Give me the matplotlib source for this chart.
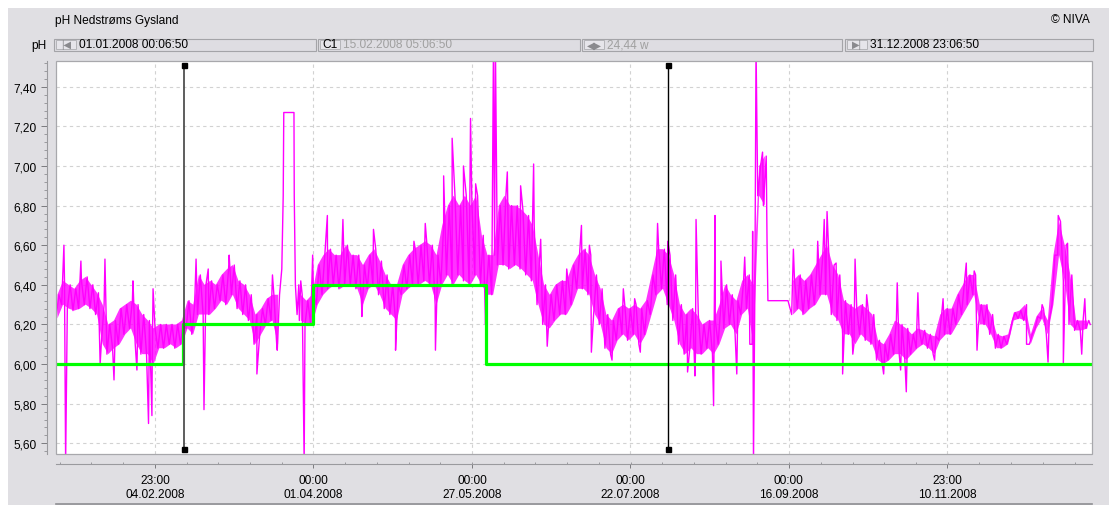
import numpy as np
import matplotlib
matplotlib.use("Agg")
import matplotlib.pyplot as plt
import matplotlib.dates as mdates
from matplotlib.patches import Rectangle
from matplotlib.lines import Line2D
from matplotlib.ticker import MultipleLocator, FixedLocator, FuncFormatter
from datetime import datetime, timedelta

# ---------------- texts ----------------
title = "pH Nedstrøms Gysland"
copyright_text = "© NIVA"
unit = "pH"
start_label = "01.01.2008 00:06:50"
cursor_label = "15.02.2008 05:06:50"
width_label = "24,44 w"
end_label = "31.12.2008 23:06:50"

# ---------------- time frame ----------------
t_start = datetime(2008, 1, 1, 0, 6, 50)
t_end = datetime(2008, 12, 31, 23, 6, 50)
cursor1_time = datetime(2008, 2, 15, 5, 6, 50)
cursor_width_weeks = 24.44

x_tick_times = [datetime(2008, 2, 4, 23, 0), datetime(2008, 4, 1, 0, 0),
                datetime(2008, 5, 27, 0, 0), datetime(2008, 7, 22, 0, 0),
                datetime(2008, 9, 16, 0, 0), datetime(2008, 11, 10, 23, 0)]
x_minor_per_major = 5

y_limits = (5.546, 7.530)
y_ticks = [5.60, 5.80, 6.00, 6.20, 6.40, 6.60, 6.80, 7.00, 7.20, 7.40]
y_minor_step = 0.04

# ---------------- pH series ----------------
# envelope of the noisy pH signal, one sample every 2 days (days since start)
band_step_days = 2
band_lo = [6.23, 6.30, 6.28, 6.27, 6.28, 6.30, 6.28, 6.25, 6.10, 6.05,
           6.08, 6.10, 6.15, 6.18, 6.10, 6.05, 6.05, 6.00, 6.08, 6.08,
           6.10, 6.08, 6.10, 6.18, 6.15, 6.25, 6.25, 6.25, 6.28, 6.32,
           6.30, 6.35, 6.28, 6.25, 6.22, 6.10, 6.15, 6.20, 6.22, 6.10,
           None, None, None, 6.22, 6.20, 6.20, 6.30, 6.35, 6.38, 6.40,
           6.38, 6.40, 6.40, 6.38, 6.30, 6.38, 6.40, 6.35, 6.28, 6.25,
           6.22, 6.35, 6.38, 6.40, 6.40, 6.42, 6.40, 6.30, 6.40, 6.45,
           6.40, 6.45, 6.42, 6.40, 6.45, 6.40, 6.35, 6.35, 6.50, 6.50,
           6.48, 6.50, 6.48, 6.45, 6.42, 6.30, 6.20, 6.18, 6.22, 6.25,
           6.25, 6.30, 6.38, 6.38, 6.35, 6.25, 6.20, 6.08, 6.05, 6.12,
           6.15, 6.12, 6.15, 6.10, 6.15, 6.25, 6.35, 6.38, 6.30, 6.22,
           6.10, 6.05, 6.08, 6.05, 6.05, 6.08, 6.05, 6.10, 6.18, 6.20,
           6.15, 6.25, 6.28, 6.10, 6.85, 6.80, None, None, None, None,
           6.25, 6.28, 6.25, 6.28, 6.30, 6.35, 6.35, 6.25, 6.22, 6.15,
           6.15, 6.10, 6.15, 6.12, 6.10, 6.02, 6.00, 6.02, 6.05, 6.05,
           6.02, 6.05, 6.08, 6.10, 6.08, 6.05, 6.12, 6.15, 6.15, 6.20,
           6.25, 6.30, 6.35, 6.20, 6.20, 6.15, 6.08, 6.08, 6.10, 6.22,
           6.23, 6.22, 6.10, 6.18, 6.23, 6.15, 6.30, 6.55, 6.42, 6.20,
           6.17, 6.17, 6.18]
band_hi = [6.35, 6.42, 6.40, 6.38, 6.42, 6.44, 6.40, 6.36, 6.30, 6.20,
           6.22, 6.28, 6.30, 6.32, 6.30, 6.25, 6.22, 6.18, 6.20, 6.20,
           6.20, 6.20, 6.22, 6.32, 6.30, 6.45, 6.40, 6.42, 6.40, 6.45,
           6.48, 6.50, 6.42, 6.40, 6.35, 6.25, 6.28, 6.33, 6.35, 6.35,
           None, None, None, 6.35, 6.32, 6.35, 6.50, 6.55, 6.58, 6.55,
           6.55, 6.60, 6.55, 6.55, 6.50, 6.55, 6.58, 6.52, 6.45, 6.40,
           6.40, 6.50, 6.55, 6.58, 6.60, 6.62, 6.60, 6.55, 6.70, 6.80,
           6.85, 6.80, 6.85, 6.80, 6.85, 6.65, 6.55, 6.55, 6.80, 6.85,
           6.80, 6.80, 6.78, 6.75, 6.70, 6.55, 6.40, 6.35, 6.40, 6.42,
           6.42, 6.50, 6.55, 6.58, 6.55, 6.45, 6.38, 6.25, 6.22, 6.28,
           6.30, 6.28, 6.30, 6.28, 6.32, 6.45, 6.58, 6.58, 6.55, 6.45,
           6.30, 6.25, 6.28, 6.25, 6.20, 6.22, 6.22, 6.30, 6.40, 6.35,
           6.32, 6.42, 6.45, 6.40, 7.00, 7.05, None, None, None, None,
           6.42, 6.45, 6.42, 6.45, 6.50, 6.55, 6.60, 6.50, 6.45, 6.32,
           6.30, 6.28, 6.30, 6.28, 6.25, 6.12, 6.10, 6.15, 6.22, 6.20,
           6.18, 6.15, 6.18, 6.17, 6.15, 6.14, 6.25, 6.28, 6.28, 6.35,
           6.40, 6.45, 6.45, 6.30, 6.30, 6.25, 6.15, 6.14, 6.15, 6.26,
           6.27, 6.30, 6.15, 6.24, 6.28, 6.22, 6.55, 6.72, 6.60, 6.45,
           6.22, 6.22, 6.22]

# isolated readings: spikes, the plateau in March and the flat stretch in September
spike_days = [2.8, 3.4, 8.8, 15.6, 17.3, 20.5, 27.2, 28.6, 32.7, 33.9, 34.3,
              49.5, 52.3, 53.8, 61.2, 71.0, 76.5, 78.2,
              79.8, 80.3, 80.5, 84.1, 84.2, 84.6, 85.2, 85.8,
              86.5, 87.7, 90.7, 95.9, 101.4, 108.1, 112.2, 120.0, 126.5, 130.5,
              134.1, 137.0, 140.0, 144.0, 146.5, 148.3, 151.8, 154.6, 155.3,
              159.5, 164.2, 168.8, 171.3, 173.6, 180.5, 185.7, 188.5, 189.2,
              196.5, 200.5, 204.5, 206.5, 212.6, 216.2, 223.2, 225.8, 226.2,
              232.4, 232.9, 235.0, 240.6, 243.4, 245.2, 246.2, 246.5, 247.4,
              249.7, 251.3, 251.6, 258.7, 260.6, 269.2, 271.5, 272.5, 275.7,
              278.0, 281.6, 282.4, 286.5, 292.5, 297.3, 298.5, 300.5, 304.6,
              310.5, 313.5, 321.7, 324.5, 325.5, 343.0, 348.5, 350.6, 354.2,
              356.0, 357.5, 362.5, 363.6, 365.5]
spike_vals = [6.60, 5.50, 6.52, 6.00, 6.53, 5.92, 6.42, 5.97, 5.70, 5.74, 6.38,
              6.53, 5.77, 6.48, 6.55, 5.95, 6.45, 6.07,
              6.48, 6.85, 7.27, 7.27, 6.85, 6.40, 6.25, 6.40,
              6.42, 5.50, 6.55, 6.75, 6.73, 6.24, 6.68, 6.07, 6.62, 6.71,
              6.07, 6.95, 7.14, 7.00, 7.24, 6.91, 6.20, 7.60, 7.60,
              6.97, 6.90, 7.01, 6.63, 6.09, 6.48, 6.70, 6.60, 6.06,
              6.02, 6.38, 6.33, 6.06, 6.71, 6.62, 5.96, 5.94, 6.73,
              5.79, 6.75, 6.52, 5.95, 6.54, 6.10, 6.67, 5.50, 7.60,
              7.07, 6.60, 6.32, 6.32, 6.58, 6.62, 6.73, 6.77, 6.51,
              5.95, 6.05, 6.53, 6.35, 5.95, 6.41, 5.97, 5.86, 6.36,
              6.02, 6.33, 6.51, 6.47, 6.07, 6.10, 6.30, 6.01, 6.75,
              6.00, 6.61, 6.05, 6.33, 6.20]

# lower limit curve (days since start where it changes, and its levels)
limit_days = [0.0, 45.0, 91.0, 152.0, 365.96]
limit_vals = [6.00, 6.20, 6.40, 6.00, 6.00]

# ---------------- colours ----------------
panel_color = "#e0dfe3"
ph_color = "#ff00ff"
limit_color = "#00ff00"
grid_color = "#d2d2d2"
axis_color = "#9a9a9e"
FONT = ["Liberation Sans", "DejaVu Sans"]
FS = 8.6

plt.rcParams["font.family"] = FONT

W, H = 1109, 506
fig = plt.figure(figsize=(W / 100, H / 100), dpi=100, facecolor="white")


def fx(x):
    return x / W


def fy(y):
    return 1 - y / H


# grey panel
fig.patches.append(Rectangle((fx(8), 0), 1 - fx(8), fy(9), transform=fig.transFigure,
                             facecolor=panel_color, edgecolor="none", zorder=-10))

# header
fig.text(fx(55), fy(21), title, ha="left", va="center", fontsize=FS)
fig.text(fx(1090), fy(20), copyright_text, ha="right", va="center", fontsize=FS)
fig.text(fx(31), fy(45.5), unit, ha="left", va="center", fontsize=FS)

boxes = [(54, 316, "|◀", start_label, "black"),
         (318, 580, "C1", cursor_label, "#a0a0a0"),
         (582, 842, "◀▶", width_label, "#a0a0a0"),
         (845, 1093, "▶|", end_label, "black")]
for x0, x1, icon, txt, tcol in boxes:
    fig.patches.append(Rectangle((fx(x0), fy(51.5)), fx(x1 - x0), (51.5 - 39.5) / H,
                                 transform=fig.transFigure, facecolor="#dedde2",
                                 edgecolor="#a4a4a8", lw=0.8, zorder=1))
    fig.patches.append(Rectangle((fx(x0 + 2), fy(50)), fx(20), (50 - 41) / H,
                                 transform=fig.transFigure, facecolor="#e6e5ea",
                                 edgecolor="#b4b4b8", lw=0.7, zorder=2))
    icol = "black" if icon == "C1" else "#8a8a8e"
    fig.text(fx(x0 + 12), fy(45.5), icon, ha="center", va="center",
             fontsize=7 if icon != "C1" else FS, color=icol, zorder=3)
    fig.text(fx(x0 + 25), fy(45.5), txt, ha="left", va="center", fontsize=FS,
             color=tcol, zorder=3)

# ---------------- axes ----------------
ax_l, ax_r, ax_t, ax_b = 56, 1091.5, 62, 455
ax = fig.add_axes([fx(ax_l), fy(ax_b), fx(ax_r - ax_l), (ax_b - ax_t) / H])
ax.set_facecolor("white")

t0 = mdates.date2num(t_start)

# envelope (dense core of the noisy signal)
centres = np.arange(len(band_lo)) * band_step_days + 0.5
blo = np.array([np.nan if v is None else v for v in band_lo], dtype=float)
bhi = np.array([np.nan if v is None else v for v in band_hi], dtype=float)
ok = ~np.isnan(blo)
ax.fill_between(t0 + centres, np.where(ok, blo, 0), np.where(ok, bhi, 0), where=ok,
                color=ph_color, alpha=0.8, lw=0, zorder=2)

# build the pH series
t_pts, v_pts = [], []
for i, (lo, hi) in enumerate(zip(band_lo, band_hi)):
    if lo is None:
        continue
    d = i * band_step_days
    t_pts += [d, d + 1]
    v_pts += [lo, hi]
t_pts += spike_days
v_pts += spike_vals
t_pts = np.array(t_pts, dtype=float)
v_pts = np.array(v_pts, dtype=float)
order = np.argsort(t_pts, kind="stable")
ax.plot(t0 + t_pts[order], v_pts[order], color=ph_color, lw=1.0, zorder=3)

ax.plot(t0 + np.array(limit_days), limit_vals, drawstyle="steps-post",
        color=limit_color, lw=2.3, zorder=4, solid_capstyle="butt")

# cursors
c1 = mdates.date2num(cursor1_time)
c2 = mdates.date2num(cursor1_time + timedelta(weeks=cursor_width_weeks))
btf = ax.get_xaxis_transform()
for cx, col, lw in [(c1, "#505050", 1.3), (c2, "black", 1.0)]:
    ax.plot([cx, cx], [0.0127, 0.9898], transform=btf, color=col, lw=lw, zorder=5)
    ax.plot([cx, cx], [0.0127, 0.9898], transform=btf, ls="none", marker="s",
            ms=3.6, color="black", zorder=6, clip_on=False)

ax.set_xlim(t0, mdates.date2num(t_end))
ax.set_ylim(*y_limits)

# y axis
ax.yaxis.set_major_locator(FixedLocator(y_ticks))
ax.yaxis.set_minor_locator(MultipleLocator(y_minor_step))
ax.yaxis.set_major_formatter(FuncFormatter(lambda v, p: f"{v:.2f}".replace(".", ",")))

# x axis
xt = [mdates.date2num(t) for t in x_tick_times]
step = (xt[1] - xt[0]) / x_minor_per_major
minor = []
k = -20
while True:
    v = xt[0] + k * step
    if v > mdates.date2num(t_end):
        break
    if v >= t0 and all(abs(v - m) > 1e-6 for m in xt):
        minor.append(v)
    k += 1
ax.xaxis.set_major_locator(FixedLocator(xt))
ax.xaxis.set_minor_locator(FixedLocator(minor))
ax.set_xticklabels([f"{t:%H:%M}\n{t:%d.%m.%Y}" for t in x_tick_times],
                   linespacing=1.1, fontsize=FS)

ax.grid(True, which="major", color=grid_color, linestyle=(0, (3, 3)), lw=0.8, zorder=0)
ax.set_axisbelow(True)

for s in ["top", "right"]:
    ax.spines[s].set_visible(False)
ax.spines["left"].set_position(("outward", 6.6))
ax.spines["bottom"].set_position(("outward", 6.9))
for s in ["left", "bottom"]:
    ax.spines[s].set_color(axis_color)
    ax.spines[s].set_linewidth(0.8)

ax.tick_params(axis="y", which="major", direction="out", length=4.3, width=0.7,
               color="#7a7a7e", pad=3.2, labelsize=FS)
ax.tick_params(axis="y", which="minor", direction="out", length=2.4, width=0.7,
               color="#9a9a9e")
ax.tick_params(axis="x", which="major", direction="out", length=3.0, width=0.7,
               color="#7a7a7e", pad=4.5, labelsize=FS)
ax.tick_params(axis="x", which="minor", direction="in", length=1.6, width=0.7,
               color="#9a9a9e")

# frame of the plotting area
ax.add_patch(Rectangle((0, 0), 1, 1, transform=ax.transAxes, fill=False,
                       edgecolor="#a8a8ac", lw=0.9, clip_on=False, zorder=7))

# bottom line of the panel
fig.add_artist(Line2D([fx(56), fx(1092)], [fy(505.3), fy(505.3)],
                      transform=fig.transFigure, color="#8e8e92", lw=1.2))

fig.savefig("out.png", dpi=100, facecolor=fig.get_facecolor())
